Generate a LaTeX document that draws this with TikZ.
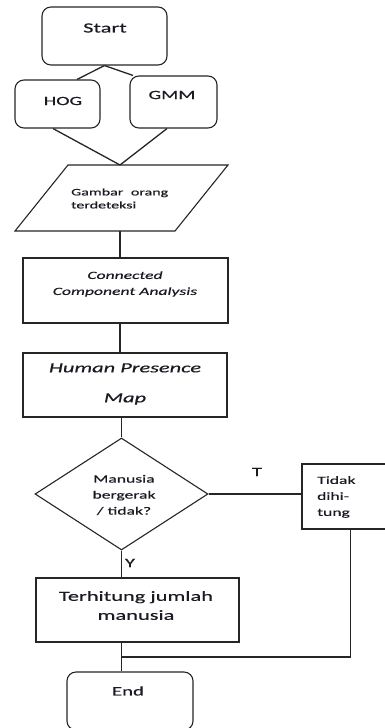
\documentclass[tikz,border=0pt]{standalone}
\usepackage{fontspec}
\setmainfont{Carlito}[FakeStretch=1.6,FakeBold=0.4]
\usetikzlibrary{shapes.geometric}
\newcommand\fs[2]{\fontsize{#1}{#2}\selectfont}
\definecolor{lc}{HTML}{262626}
\definecolor{tc}{HTML}{1A1A22}
\begin{document}
\begin{tikzpicture}[x=1pt,y=-1pt,
  rbox/.style={draw=lc, line width=1.1pt, rounded corners=9pt, inner sep=0pt},
  sbox/.style={draw=lc, line width=1.2pt, inner sep=0pt},
  conn/.style={draw=lc, line width=1.3pt},
  txt/.style={inner sep=0pt, text=tc}]
\useasboundingbox (0,0) rectangle (385,728);
\clip (0,0) rectangle (385,728);
\fill[white] (0,0) rectangle (385,728);

% Start, HOG, GMM
\node[rbox, minimum width=125pt, minimum height=58pt] (start) at (104.5,36) {};
\node[txt, font=\fs{14}{16}] (starttxt) at (105,28) {Start};
\node[rbox, minimum width=85pt, minimum height=48pt] (hog) at (57.5,104) {};
\node[txt, font=\fs{12.5}{15}] (hogtxt) at (63,101) {HOG};
\node[rbox, minimum width=87pt, minimum height=52pt] (gmm) at (173.5,102) {};
\node[txt, font=\fs{12.5}{15}] (gmmtxt) at (172,95) {GMM};
\draw[conn] (start.south) -- ([xshift=19.5pt]hog.north);
\draw[conn] (start.south) -- ([xshift=-40.5pt]gmm.north);

% data (parallelogram)
\coordinate (datatop) at (120,165);
\coordinate (databot) at (120,231);
\draw[line width=1.1pt, draw=lc] (15,231) -- (68,165) -- (228,165) -- (175,231) -- cycle;
\node[txt, font=\fs{10}{13}, align=left, anchor=west] (datatxt) at (71,198.5)
  {\makebox[97pt][s]{Gambar orang}\\terdeteksi};
\draw[conn] ([xshift=-4.5pt]hog.south) -- (datatop);
\draw[conn] ([xshift=-6.5pt]gmm.south) -- (datatop);

% Connected Component Analysis
\node[sbox, minimum width=205pt, minimum height=65pt] (cca) at (125.5,290.5) {};
\node[txt, font=\fs{11}{16}\itshape, align=center] (ccatxt) at (125,284)
  {Connected\\Component Analysis};
\draw[conn] (databot) -- (databot |- cca.north);

% Human Presence Map
\node[sbox, minimum width=204pt, minimum height=64pt] (hmp) at (125,385) {};
\node[txt, font=\fs{14}{30}\itshape, align=center] (hmptxt) at (125,384)
  {Human Presence\\Map};
\draw[conn] (cca.south -| databot) -- (databot |- hmp.north);

% decision
\node[draw=lc, line width=1.1pt, diamond, minimum width=173pt, minimum height=112pt, inner sep=0pt] (dec) at (121.5,494) {};
\node[txt, font=\fs{11}{16}, align=center] (dectxt) at (124,495)
  {Manusia\\bergerak\\/ tidak?};
\draw[conn] (dec.north |- hmp.south) -- (dec.north);

% Tidak dihitung (runs off the right edge)
\node[sbox, minimum width=140pt, minimum height=65pt] (tidak) at (372,496.5) {};
\node[txt, font=\fs{11}{16}, align=left, anchor=west] (tidaktxt) at (317,497)
  {Tidak\\dihi-\\tung};
\draw[conn] (dec.east) -- (dec.east -| tidak.west);
\node[txt, font=\fs{13}{15}] (tlabel) at (257,472) {T};
\coordinate (tdrop) at ([xshift=49pt]tidak.south west);

% Terhitung
\node[sbox, minimum width=203pt, minimum height=64pt] (ter) at (137.5,610) {};
\node[txt, font=\fs{14}{19}, align=center] (tertxt) at (136,605.5)
  {Terhitung jumlah\\manusia};
\draw[conn] (dec.south) -- (dec.south |- ter.north);
\node[txt, font=\fs{13}{15}] (ylabel) at (130,563) {Y};

% End
\node[rbox, minimum width=126pt, minimum height=58pt] (fin) at (130,701) {};
\node[txt, font=\fs{13}{15}] (fintxt) at (128,691) {End};
\coordinate (join) at (121.5,657);
\draw[conn] (tdrop) |- (join);
\draw[conn] (join |- ter.south) -- (join |- fin.north);
\end{tikzpicture}
\end{document}
